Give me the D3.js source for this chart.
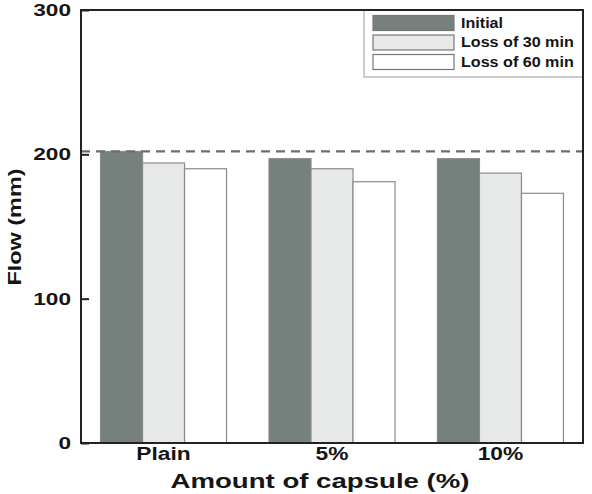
<!DOCTYPE html>
<html>
<head>
<meta charset="utf-8">
<script src="https://cdn.jsdelivr.net/npm/d3@7"></script>
<style>
  body { margin: 0; background: #fff; }
  text { font-family: "Liberation Sans", Arial, sans-serif; font-weight: bold; fill: #151515; }
</style>
</head>
<body>
<div id="chart"></div>
<script>
// data
var categories = ["Plain", "5%", "10%"];
var seriesNames = ["Initial", "Loss of 30 min", "Loss of 60 min"];
var initialFlow = [202, 197, 197];
var loss30Flow = [194, 190, 187];
var loss60Flow = [190, 181, 173];
var yTicks = [0, 100, 200, 300];
var refLine = 202;

var seriesValues = [initialFlow, loss30Flow, loss60Flow];
var fills = ["#76807c", "#e7e9e8", "#ffffff"];

var svgWidth = 592, svgHeight = 494;
var margin = { top: 10, right: 9, bottom: 51, left: 81 };
var width = svgWidth - margin.left - margin.right;
var height = svgHeight - margin.top - margin.bottom;

// the picture looks stretched sideways, so text is widened with textLength
function stretch(sel, k) {
  sel.each(function () {
    var w = this.getComputedTextLength();
    d3.select(this).attr("textLength", w * k).attr("lengthAdjust", "spacingAndGlyphs");
  });
}

var svg = d3.select("#chart").append("svg")
  .attr("width", svgWidth)
  .attr("height", svgHeight);

var g = svg.append("g").attr("transform", `translate(${margin.left},${margin.top})`);

var x0 = d3.scaleBand().domain(categories).range([0, width])
  .paddingInner(0.252).paddingOuter(0.116);
var x1 = d3.scaleBand().domain(seriesNames).range([0, x0.bandwidth()]);
var y = d3.scaleLinear().domain([0, 300]).range([height, 0]);

// bars
var groups = g.selectAll(".grp")
  .data(categories)
  .enter().append("g")
  .attr("transform", d => `translate(${x0(d)},0)`);

groups.selectAll("rect")
  .data((c, i) => seriesNames.map((s, j) => ({ s: s, j: j, v: seriesValues[j][i] })))
  .enter().append("rect")
  .attr("x", d => x1(d.s))
  .attr("y", d => y(d.v))
  .attr("width", x1.bandwidth())
  .attr("height", d => height - y(d.v))
  .attr("fill", d => fills[d.j])
  .attr("stroke", "#8a8a8a")
  .attr("stroke-width", 1.2);

// dashed reference line
g.append("line")
  .attr("x1", 0).attr("x2", width)
  .attr("y1", y(refLine)).attr("y2", y(refLine))
  .attr("stroke", "#6e6e6e")
  .attr("stroke-width", 2.2)
  .attr("stroke-dasharray", "9,6");

// frame
g.append("rect")
  .attr("width", width).attr("height", height)
  .attr("fill", "none")
  .attr("stroke", "#222")
  .attr("stroke-width", 2);

// y axis, ticks inward
var yAxis = g.append("g")
  .call(d3.axisLeft(y).tickValues(yTicks).tickSize(-8).tickPadding(10));
yAxis.select(".domain").remove();
yAxis.selectAll("line").attr("stroke", "#222").attr("stroke-width", 2);
yAxis.selectAll("text").style("font-size", "17px").attr("fill", "#151515")
  .call(stretch, 1.33);

// x axis labels
var xAxis = g.append("g")
  .attr("transform", `translate(0,${height})`)
  .call(d3.axisBottom(x0).tickSize(0).tickPadding(5));
xAxis.select(".domain").remove();
xAxis.selectAll("text").style("font-size", "17.5px").attr("fill", "#151515")
  .call(stretch, 1.3);

// axis titles
svg.append("text")
  .attr("transform", `translate(21,227) rotate(-90)`)
  .attr("text-anchor", "middle")
  .style("font-size", "18px")
  .text("Flow (mm)")
  .call(stretch, 1.3);

svg.append("text")
  .attr("x", 320).attr("y", 488)
  .attr("text-anchor", "middle")
  .style("font-size", "20px")
  .text("Amount of capsule (%)")
  .call(stretch, 1.38);

// legend
var legend = g.append("g").attr("transform", `translate(${width - 219},0)`);
legend.append("rect")
  .attr("width", 219).attr("height", 67)
  .attr("fill", "#fff")
  .attr("stroke", "#999").attr("stroke-width", 1);

seriesNames.forEach(function (s, i) {
  legend.append("rect")
    .attr("x", 9).attr("y", 5.5 + i * 19.5)
    .attr("width", 81).attr("height", 15)
    .attr("fill", fills[i])
    .attr("stroke", "#777").attr("stroke-width", 1.2);
  legend.append("text")
    .attr("x", 97).attr("y", 17.5 + i * 19.5)
    .style("font-size", "14px")
    .text(s)
    .call(stretch, 1.15);
});

// redraw frame top/right over legend
g.append("path")
  .attr("d", `M0,0H${width}V${height}`)
  .attr("fill", "none")
  .attr("stroke", "#222")
  .attr("stroke-width", 2);
</script>
</body>
</html>
